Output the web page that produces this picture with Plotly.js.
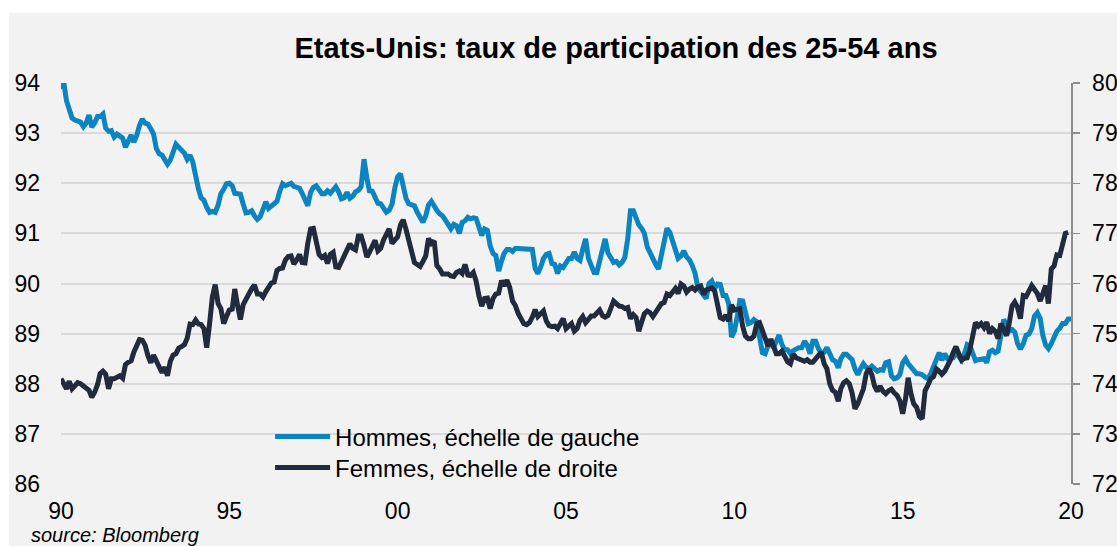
<!DOCTYPE html>
<html>
<head>
<meta charset="utf-8">
<script src="https://cdn.plot.ly/plotly-3.0.1.min.js"></script>
<style>
html,body{margin:0;padding:0;background:#ffffff;}
#chart{width:1117px;height:546px;}
</style>
</head>
<body>
<div id="chart"></div>
<script>
// Monthly series, January 1990 onwards
const startYear = 1990;

// Men 25-54 participation rate, left scale (%)
const menValues = [
93.88,94.0,93.65,93.47,93.3,93.26,93.25,93.22,93.13,93.2,
93.36,93.12,93.2,93.33,93.33,93.38,93.1,93.04,93.05,92.92,
92.98,92.95,92.9,92.72,92.85,92.96,92.82,92.95,93.15,93.28,
93.2,93.18,93.09,92.98,92.69,92.59,92.56,92.45,92.38,92.46,
92.6,92.78,92.72,92.66,92.6,92.48,92.56,92.42,92.12,91.88,
91.71,91.66,91.52,91.42,91.44,91.42,91.56,91.79,91.88,91.99,
92.0,91.95,91.8,91.78,91.78,91.58,91.41,91.42,91.45,91.35,
91.28,91.33,91.51,91.63,91.5,91.55,91.59,91.64,91.84,91.99,
91.95,91.97,92.0,91.94,91.92,91.9,91.8,91.64,91.55,91.82,
91.92,91.95,91.85,91.79,91.79,91.85,91.8,91.88,91.93,91.83,
91.69,91.71,91.82,91.7,91.74,91.83,91.86,91.93,92.48,92.1,
91.85,91.84,91.7,91.6,91.59,91.48,91.42,91.46,91.58,91.9,
92.13,92.19,91.89,91.7,91.59,91.57,91.55,91.42,91.34,91.22,
91.35,91.57,91.64,91.52,91.46,91.39,91.35,91.27,91.16,91.09,
91.18,91.15,91.0,91.22,91.25,91.32,91.29,91.31,91.3,91.1,
90.96,91.09,91.06,90.75,90.6,90.56,90.25,90.45,90.6,90.68,
90.68,90.64,90.7,90.7,90.7,90.7,90.7,90.7,90.68,90.3,
90.2,90.33,90.5,90.58,90.6,90.4,90.38,90.2,90.35,90.32,
90.4,90.5,90.5,90.63,90.5,90.46,90.68,90.89,90.5,90.34,
90.22,90.22,90.42,90.68,90.89,90.61,90.53,90.42,90.44,90.37,
90.42,90.52,90.89,91.45,91.45,91.3,91.17,91.1,91.0,90.73,
90.6,90.46,90.38,90.29,90.6,90.9,91.1,91.02,90.85,90.6,
90.5,90.55,90.65,90.53,90.47,90.36,90.2,89.92,89.84,89.73,
89.7,90.0,90.05,89.9,89.99,89.98,89.76,89.76,89.6,88.93,
89.05,89.33,89.66,89.65,89.39,89.2,89.22,89.28,89.24,88.92,
88.62,88.6,88.76,88.8,88.72,88.85,88.97,88.78,88.68,88.68,
88.6,88.66,88.69,88.72,88.72,88.85,88.77,88.6,88.85,88.85,
88.7,88.61,88.63,88.72,88.6,88.48,88.45,88.32,88.5,88.59,
88.59,88.52,88.48,88.3,88.18,88.3,88.4,88.33,88.3,88.35,
88.3,88.25,88.28,88.27,88.42,88.44,88.16,88.1,88.12,88.18,
88.42,88.5,88.4,88.33,88.3,88.2,88.2,88.18,88.13,88.1,
88.2,88.36,88.47,88.62,88.47,88.6,88.5,88.5,88.52,88.62,
88.56,88.47,88.6,88.78,88.75,88.55,88.46,88.48,88.48,88.5,
88.42,88.64,88.67,88.62,88.65,89.0,89.28,89.18,89.05,89.08,
89.03,88.8,88.69,88.8,88.97,88.99,89.1,89.35,89.42,89.3,
88.97,88.77,88.7,88.8,88.95,89.05,89.11,89.2,89.2,89.29,
89.29
];

// Women 25-54 participation rate, right scale (%)
const womenValues = [
74.1,74.0,73.9,74.05,73.9,73.96,74.02,74.0,73.95,73.9,
73.87,73.73,73.83,73.98,74.2,74.25,74.19,73.9,74.1,74.1,
74.14,74.16,74.11,74.38,74.43,74.46,74.63,74.79,74.88,74.87,
74.77,74.56,74.42,74.57,74.46,74.3,74.22,74.33,74.16,74.45,
74.57,74.6,74.71,74.74,74.78,74.91,75.19,75.18,75.27,75.19,
75.18,75.1,74.72,75.2,75.73,75.98,75.6,75.5,75.2,75.34,
75.47,75.49,75.89,75.56,75.28,75.58,75.69,75.76,75.9,75.97,
75.79,75.79,75.73,75.84,75.94,76.01,76.03,76.26,76.3,76.31,
76.47,76.54,76.55,76.39,76.47,76.58,76.42,76.41,76.8,77.09,
77.1,76.86,76.58,76.52,76.56,76.4,76.58,76.62,76.33,76.32,
76.43,76.54,76.66,76.79,76.7,76.67,76.95,76.95,76.76,76.53,
76.62,76.73,76.86,76.65,76.7,76.87,76.99,77.09,76.8,76.88,
76.93,77.17,77.27,77.08,76.88,76.66,76.42,76.38,76.34,76.44,
76.55,76.9,76.8,76.85,76.36,76.29,76.19,76.19,76.19,76.15,
76.14,76.22,76.25,76.2,76.38,76.17,76.16,76.22,76.05,75.75,
75.55,75.7,75.71,75.5,75.7,75.79,75.81,76.06,75.95,76.07,
75.92,75.65,75.56,75.4,75.3,75.2,75.18,75.22,75.33,75.48,
75.34,75.4,75.45,75.25,75.16,75.14,75.15,75.1,75.2,75.3,
75.1,75.15,75.2,75.05,75.1,75.27,75.34,75.22,75.3,75.35,
75.35,75.42,75.47,75.36,75.33,75.36,75.52,75.65,75.6,75.55,
75.54,75.5,75.52,75.3,75.38,75.32,75.05,75.28,75.4,75.45,
75.42,75.34,75.42,75.52,75.6,75.62,75.79,75.76,75.84,75.9,
75.8,75.99,75.95,75.83,75.89,75.92,75.87,75.93,75.95,75.78,
75.87,75.89,75.91,75.85,75.6,75.32,75.29,75.37,75.25,75.57,
75.47,75.5,75.5,75.15,74.95,74.9,74.9,74.95,75.2,75.22,
75.05,74.89,74.75,74.89,74.74,74.6,74.6,74.65,74.55,74.44,
74.4,74.59,74.52,74.5,74.48,74.45,74.48,74.43,74.43,74.5,
74.56,74.63,74.4,74.3,74.0,73.87,73.83,73.65,73.9,74.02,
74.06,74.0,73.82,73.5,73.6,73.78,73.9,74.2,74.3,74.18,
73.96,73.85,73.95,73.85,73.8,73.86,73.89,73.82,73.77,73.66,
73.4,73.7,74.12,73.8,73.6,73.53,73.35,73.3,73.86,73.97,
74.1,74.14,74.3,74.25,74.19,74.25,74.34,74.47,74.62,74.74,
74.6,74.47,74.51,74.52,74.7,74.96,75.22,75.15,75.2,75.12,
75.23,75.0,75.1,75.05,74.9,75.2,75.05,74.96,75.2,75.55,
75.63,75.52,75.3,75.76,75.74,75.85,75.96,75.88,75.8,75.65,
75.8,75.96,75.6,76.29,76.35,76.57,76.56,76.75,77.0,77.02
];

const tickDates = ['1990-01-01','1995-01-01','2000-01-01','2005-01-01','2010-01-01','2015-01-01','2020-01-01'];
const tickLabels = ['90','95','00','05','10','15','20'];
const seriesNames = ['Hommes, échelle de gauche', 'Femmes, échelle de droite'];
const chartTitle = 'Etats-Unis: taux de participation des 25-54 ans';
const sourceText = 'source: Bloomberg';

function monthDates(n) {
  const out = [];
  for (let i = 0; i < n; i++) {
    const y = startYear + Math.floor(i / 12);
    const m = (i % 12) + 1;
    out.push(y + '-' + String(m).padStart(2, '0') + '-01');
  }
  return out;
}

const FONT = 'Liberation Sans, Arial, Helvetica, sans-serif';
const BLUE = '#0b84c0';
const DARK = '#222a3d';
const AXIS = '#8c8c8c';

const traces = [
  {
    x: monthDates(menValues.length), y: menValues, name: seriesNames[0],
    type: 'scatter', mode: 'lines', yaxis: 'y', legend: 'legend',
    line: {color: BLUE, width: 5}
  },
  {
    x: monthDates(womenValues.length), y: womenValues, name: seriesNames[1],
    type: 'scatter', mode: 'lines', yaxis: 'y2', legend: 'legend2',
    line: {color: DARK, width: 5}
  }
];

const legendStyle = {
  xanchor: 'left', yanchor: 'middle',
  bgcolor: 'rgba(0,0,0,0)', borderwidth: 0,
  font: {family: FONT, size: 24, color: '#000000'},
  itemwidth: 55
};

const layout = {
  width: 1117, height: 546,
  margin: {l: 61, r: 46, t: 83, b: 62, pad: 0},
  paper_bgcolor: '#ffffff',
  plot_bgcolor: 'rgba(0,0,0,0)',
  font: {family: FONT, size: 23, color: '#000000'},
  showlegend: true,
  title: {
    text: chartTitle,
    font: {family: FONT, size: 29, color: '#000000', weight: 'bold'},
    x: 0.5515, xanchor: 'center', y: 0.912, yanchor: 'middle'
  },
  xaxis: {
    type: 'date',
    range: ['1990-01-01', '2020-01-01'],
    tickmode: 'array', tickvals: tickDates, ticktext: tickLabels,
    showgrid: false, zeroline: false, showline: false, ticks: '',
    ticklabelstandoff: 11,
    tickfont: {family: FONT, size: 23, color: '#000000'},
    fixedrange: true
  },
  yaxis: {
    range: [86, 94], tick0: 86, dtick: 1,
    showgrid: true, gridcolor: '#d9d9d9', gridwidth: 2,
    zeroline: false, showline: false, ticks: '',
    ticklabelstandoff: 20,
    tickfont: {family: FONT, size: 23, color: '#000000'},
    fixedrange: true
  },
  yaxis2: {
    overlaying: 'y', side: 'right',
    range: [72, 80], tick0: 72, dtick: 1,
    showgrid: false, zeroline: false,
    showline: true, linecolor: AXIS, linewidth: 1.5,
    ticks: 'outside', ticklen: 7, tickwidth: 1.5, tickcolor: AXIS,
    ticklabelstandoff: 8,
    tickfont: {family: FONT, size: 23, color: '#000000'},
    fixedrange: true
  },
  legend: Object.assign({}, legendStyle, {x: 0.207, y: 0.1172}),
  legend2: Object.assign({}, legendStyle, {x: 0.207, y: 0.0399}),
  shapes: [
    {
      type: 'rect', xref: 'paper', yref: 'paper', layer: 'below',
      x0: -0.0515, x1: 1.07, y0: -0.25, y1: 1.1746,
      fillcolor: '#f2f2f2', line: {width: 0}
    }
  ],
  annotations: [
    {
      text: '<i>' + sourceText + '</i>',
      xref: 'paper', yref: 'paper', x: -0.0307, y: -0.0973,
      xanchor: 'left', yanchor: 'top', showarrow: false, borderpad: 0,
      font: {family: FONT, size: 20, color: '#000000'}
    }
  ]
};

Plotly.newPlot('chart', traces, layout, {displayModeBar: false, staticPlot: true});
</script>
</body>
</html>
